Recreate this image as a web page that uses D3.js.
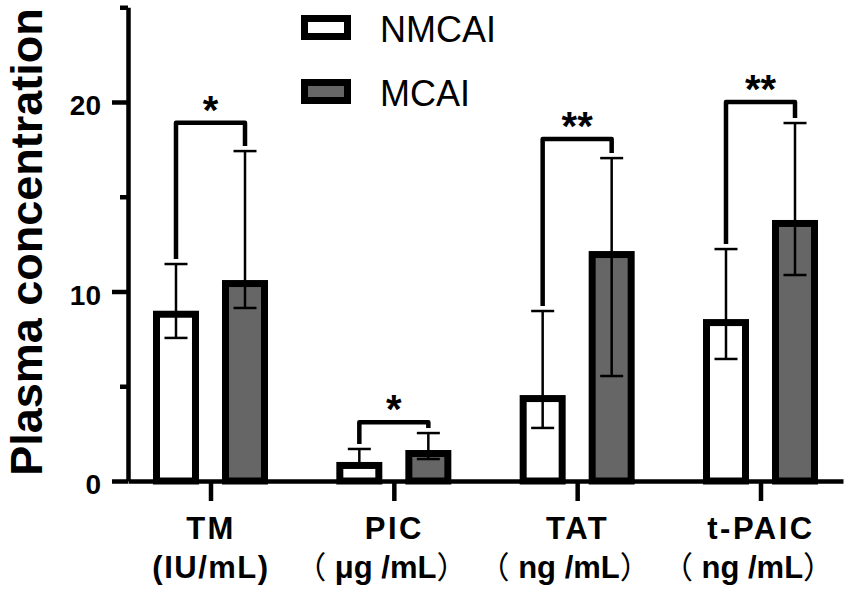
<!DOCTYPE html>
<html>
<head>
<meta charset="utf-8">
<script src="https://cdn.jsdelivr.net/npm/d3@7"></script>
<style>
  body { margin: 0; background: #fff; }
  text { font-family: Arial, "Liberation Sans", "Noto Sans CJK SC", sans-serif; }
  .cjk { font-family: "Noto Sans CJK SC", sans-serif; }
</style>
</head>
<body>
<svg id="chart"></svg>
<script>
const categories = ["TM", "PIC", "TAT", "t-PAIC"];
// unit label: [open paren, unit, close paren]
const units = [
  ["(", "IU/mL", ")"],
  ["\uFF08", " \u03BCg /mL", "\uFF09"],
  ["\uFF08", " ng /mL", "\uFF09"],
  ["\uFF08", " ng /mL", "\uFF09"],
];
const series = ["NMCAI", "MCAI"];

// medians and lower / upper whiskers
const nmcaiValue = [8.8, 0.82, 4.35, 8.36];
const nmcaiLow = [7.55, 0.82, 2.8, 6.44];
const nmcaiHigh = [11.45, 1.69, 8.97, 12.24];
const mcaiValue = [10.42, 1.45, 11.95, 13.59];
const mcaiLow = [9.13, 1.16, 5.54, 10.87];
const mcaiHigh = [17.41, 2.53, 17.04, 18.89];

const bracketLevel = [18.9, 3.1, 18.05, 20.0];
const stars = ["*", "*", "**", "**"];

const yTicks = [0, 10, 20];
const yMinorTicks = [5, 15, 25];

const COLOR_MAP = { NMCAI: "#ffffff", MCAI: "#666666" };

const WIDTH = 851;
const HEIGHT = 593;
const margin = { top: 7.25, left: 128 };
const CHART_END_X = 843;
const CHART_END_Y = 481;

const BAR_STROKE = 7;

const svg = d3.select("#chart").attr("width", WIDTH).attr("height", HEIGHT);

const x = d3.scalePoint().domain(categories).range([margin.left, CHART_END_X]).padding(0.45);
const x1 = d3.scaleBand().domain(series).range([-54, 54]).paddingInner(0.435);
const y = d3.scaleLinear().domain([0, 25]).range([CHART_END_Y, margin.top]);

const rows = categories.map((c, i) => ({
  cat: c,
  bars: [
    { key: "NMCAI", value: nmcaiValue[i], low: nmcaiLow[i], high: nmcaiHigh[i] },
    { key: "MCAI", value: mcaiValue[i], low: mcaiLow[i], high: mcaiHigh[i] },
  ],
  bracket: bracketLevel[i],
  star: stars[i],
}));

const groups = svg.selectAll(".group")
  .data(rows)
  .join("g")
  .classed("group", true)
  .attr("transform", (d) => `translate(${x(d.cat)},0)`);

// bars
groups.selectAll(".bar")
  .data((d) => d.bars)
  .join("rect")
  .classed("bar", true)
  .attr("x", (d) => x1(d.key))
  .attr("width", x1.bandwidth())
  .attr("y", (d) => y(d.value))
  .attr("height", (d) => y(0) - y(d.value))
  .attr("fill", (d) => COLOR_MAP[d.key])
  .attr("stroke", "#000")
  .attr("stroke-width", BAR_STROKE);

// error bars
const cx = (d) => x1(d.key) + x1.bandwidth() / 2;
const CAP = 11.5;

groups.selectAll(".err")
  .data((d) => d.bars)
  .join("line")
  .classed("err", true)
  .attr("x1", cx).attr("x2", cx)
  .attr("y1", (d) => y(d.low)).attr("y2", (d) => y(d.high))
  .attr("stroke", "#000").attr("stroke-width", 2.5);

groups.selectAll(".cap-high")
  .data((d) => d.bars)
  .join("line")
  .classed("cap-high", true)
  .attr("x1", (d) => cx(d) - CAP).attr("x2", (d) => cx(d) + CAP)
  .attr("y1", (d) => y(d.high)).attr("y2", (d) => y(d.high))
  .attr("stroke", "#000").attr("stroke-width", 2.5);

groups.selectAll(".cap-low")
  .data((d) => d.bars)
  .join("line")
  .classed("cap-low", true)
  .attr("x1", (d) => cx(d) - CAP).attr("x2", (d) => cx(d) + CAP)
  .attr("y1", (d) => y(d.low)).attr("y2", (d) => y(d.low))
  .attr("stroke", "#000").attr("stroke-width", 2.5);

// significance brackets
const GAP = 5;
groups.append("path")
  .attr("fill", "none")
  .attr("stroke", "#000")
  .attr("stroke-width", 4.5)
  .attr("stroke-linejoin", "round")
  .attr("d", (d) => {
    const [a, b] = d.bars;
    const top = y(d.bracket);
    return `M${cx(a)},${y(a.high) - GAP}V${top}H${cx(b)}V${y(b.high) - GAP}`;
  });

groups.append("text")
  .attr("x", (d) => (cx(d.bars[0]) + cx(d.bars[1])) / 2)
  .attr("y", (d) => y(d.bracket) + 1)
  .attr("text-anchor", "middle")
  .attr("font-size", 40)
  .attr("font-weight", "bold")
  .text((d) => d.star);

// axes
const yAxis = d3.axisLeft(y).tickValues(yTicks).tickSize(16).tickSizeOuter(0).tickPadding(11);
const yMinor = d3.axisLeft(y).tickValues(yMinorTicks).tickSize(8).tickSizeOuter(0).tickFormat("");

const gy = svg.append("g").attr("transform", `translate(${margin.left},0)`).call(yAxis);
svg.append("g").attr("transform", `translate(${margin.left},0)`).call(yMinor)
  .call((g) => g.select(".domain").remove());

const gx = svg.append("g")
  .attr("transform", `translate(0,${y(0)})`)
  .call(d3.axisBottom(x).tickSize(20).tickSizeOuter(0).tickFormat(""));

svg.selectAll(".domain, .tick line")
  .attr("stroke", "#000")
  .attr("stroke-width", 4.5);

gy.selectAll(".tick text")
  .attr("font-size", 28)
  .attr("font-weight", "bold")
  .attr("fill", "#000")
  .attr("dy", "0.46em");

gx.selectAll(".tick")
  .each(function (d, i) {
    const t = d3.select(this);
    t.append("text")
      .attr("y", 58)
      .attr("fill", "#000")
      .attr("font-size", 31)
      .attr("font-weight", "bold")
      .attr("letter-spacing", 2.5)
      .attr("text-anchor", "middle")
      .text(d);
    const [open, mid, close] = units[i];
    const wide = open !== "(";
    const u = t.append("text")
      .attr("x", wide ? -13 : 0)
      .attr("y", 97)
      .attr("fill", "#000")
      .attr("font-size", 31)
      .attr("font-weight", "bold")
      .attr("letter-spacing", wide ? 0 : 1.5)
      .attr("text-anchor", "middle");
    u.append("tspan").classed("cjk", wide).attr("font-weight", wide ? "normal" : "bold").text(open);
    u.append("tspan").text(mid);
    u.append("tspan").classed("cjk", wide).attr("font-weight", wide ? "normal" : "bold").text(close);
  });

// y title
svg.append("text")
  .attr("transform", "translate(42,242) rotate(-90)")
  .attr("text-anchor", "middle")
  .attr("font-size", 45)
  .attr("font-weight", "bold")
  .text("Plasma concentration");

// legend
const legend = svg.append("g")
  .selectAll("g")
  .data(series)
  .join("g")
  .attr("transform", (d, i) => `translate(304.5,${18.5 + i * 64})`);

legend.append("rect")
  .attr("width", 43)
  .attr("height", 18)
  .attr("fill", (d) => COLOR_MAP[d])
  .attr("stroke", "#000")
  .attr("stroke-width", BAR_STROKE);

legend.append("text")
  .attr("x", 75.5)
  .attr("y", 23)
  .attr("font-size", 36)
  .text((d) => d);
</script>
</body>
</html>
